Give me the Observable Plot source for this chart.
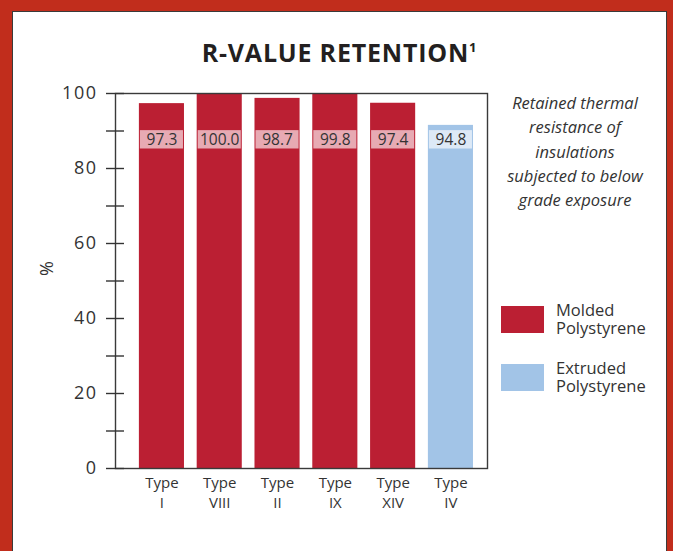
<!DOCTYPE html>
<html>
<head>
<meta charset="utf-8">
<script src="https://cdn.jsdelivr.net/npm/d3@7"></script>
<script src="https://cdn.jsdelivr.net/npm/@observablehq/plot@0.6"></script>
<style>
  html, body { margin: 0; padding: 0; }
  body { width: 673px; height: 551px; background: #c12d1c; position: relative; overflow: hidden; font-family: "Open Sans", sans-serif; color: #333; }
  #panel { position: absolute; left: 12px; top: 11px; width: 655px; height: 545px; background: #fff; border: 1.5px solid #3a3a3a; border-bottom: none; box-sizing: border-box; }
  #title { position: absolute; left: 12px; width: 655px; top: 35px; text-align: center; font-weight: 700; font-size: 25px; color: #231f20; letter-spacing: 0.8px; }
  #title sup { font-size: 13px; vertical-align: 10px; }
  #note { position: absolute; left: 490px; width: 170px; top: 91px; text-align: center; font-style: italic; font-size: 16.5px; line-height: 24.3px; color: #333; }
  #legend { position: absolute; left: 501px; top: 301px; font-size: 16.5px; line-height: 18px; color: #333; }
  .item { display: flex; align-items: center; margin-bottom: 22px; }
  .sw { width: 43px; height: 27px; margin-right: 12px; flex: none; }
  #chart { position: absolute; left: 0; top: 0; }
  #chart svg { overflow: visible; }
  [aria-label="y-axis tick label"] text { letter-spacing: 1.5px; }
</style>
</head>
<body>
<div id="panel"></div>
<div id="chart"></div>
<div id="title"></div>
<div id="note"></div>
<div id="legend"></div>
<script>
// ---- data ----
const types = ["I", "VIII", "II", "IX", "XIV", "IV"];
const materials = ["Molded Polystyrene", "Molded Polystyrene", "Molded Polystyrene", "Molded Polystyrene", "Molded Polystyrene", "Extruded Polystyrene"];
const retention = [97.3, 100.0, 98.7, 99.8, 97.4, 94.8];      // printed labels
const barHeight = [97.3, 100.0, 98.7, 99.8, 97.4, 91.5];      // bar tops as drawn
const legendKeys = ["Molded Polystyrene", "Extruded Polystyrene"];
const legendLines = [["Molded", "Polystyrene"], ["Extruded", "Polystyrene"]];
const barColors = ["#bb1f33", "#a2c4e7"];
const boxColors = ["#e7aab3", "#dde9f6"];
const yTicksMajor = [0, 20, 40, 60, 80, 100];
const yTicksMinor = [0, 10, 20, 30, 40, 50, 60, 70, 80, 90, 100];
const titleText = "R-VALUE RETENTION";
const noteLines = ["Retained thermal", "resistance of", "insulations", "subjected to below", "grade exposure"];

const data = types.map((t, i) => ({type: t, material: materials[i], value: retention[i], height: barHeight[i]}));
const boxColor = d => boxColors[legendKeys.indexOf(d.material)];

const chart = Plot.plot({
  width: 673,
  height: 551,
  marginLeft: 115,
  marginRight: 186,
  marginTop: 93,
  marginBottom: 83,
  style: {background: "transparent", fontFamily: "Open Sans, sans-serif", color: "#333"},
  x: {domain: types, paddingInner: 0.22, paddingOuter: 0.328, align: 0.63, round: false, label: null},
  y: {domain: [0, 100], label: null},
  color: {domain: legendKeys, range: barColors},
  marks: [
    Plot.barY(data, {x: "type", y: "height", fill: "material"}),
    Plot.barY(data, {x: "type", y1: 85.2, y2: 90.1, fill: boxColor, insetLeft: 1, insetRight: 1}),
    Plot.text(data, {x: "type", y: 87.65, text: d => d.value.toFixed(1), fill: "#333", fontSize: 15.5}),
    Plot.frame({stroke: "#3a3a3a", strokeWidth: 1.4}),
    Plot.axisY({ticks: yTicksMinor, tickSize: 18, dx: 9, tickFormat: () => "", stroke: "#333", strokeWidth: 1.4}),
    Plot.axisY({ticks: yTicksMajor, tickSize: 0, tickPadding: 18, fontSize: 18, fill: "#333", label: null}),
    Plot.axisX({tickSize: 0, tickPadding: 6, fontSize: 15, fill: "#333", lineHeight: 1.3, tickFormat: d => "Type\n" + d, label: null}),
    Plot.text(["%"], {frameAnchor: "left", dx: -68, dy: -5, rotate: -90, fontSize: 18, fill: "#333"})
  ]
});
document.getElementById("chart").appendChild(chart);

document.getElementById("title").innerHTML = titleText + "<sup>1</sup>";
document.getElementById("note").innerHTML = noteLines.join("<br>");
document.getElementById("legend").innerHTML = legendKeys.map((k, i) =>
  `<div class="item"><div class="sw" style="background:${barColors[i]}"></div><div>${legendLines[i].join("<br>")}</div></div>`).join("");
</script>
</body>
</html>
